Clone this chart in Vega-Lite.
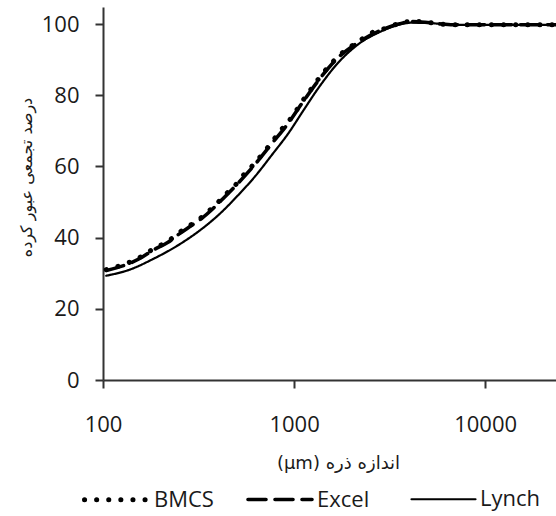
{
  "$schema": "https://vega.github.io/schema/vega-lite/v6.json",
  "width": 453,
  "height": 373,
  "autosize": {"type": "none"},
  "padding": {"left": 103, "top": 7, "right": 0, "bottom": 136},
  "background": "white",
  "config": {"view": {"stroke": null}},
  "data": {
    "values": [
      {"series": "Lynch", "size": 104, "pct": 29.3},
      {"series": "Lynch", "size": 138, "pct": 31.0},
      {"series": "Lynch", "size": 183, "pct": 34.0},
      {"series": "Lynch", "size": 253, "pct": 38.2},
      {"series": "Lynch", "size": 330, "pct": 42.5},
      {"series": "Lynch", "size": 420, "pct": 47.3},
      {"series": "Lynch", "size": 503, "pct": 51.6},
      {"series": "Lynch", "size": 625, "pct": 57.2},
      {"series": "Lynch", "size": 767, "pct": 63.3},
      {"series": "Lynch", "size": 931, "pct": 69.2},
      {"series": "Lynch", "size": 1115, "pct": 75.6},
      {"series": "Lynch", "size": 1352, "pct": 82.3},
      {"series": "Lynch", "size": 1680, "pct": 88.8},
      {"series": "Lynch", "size": 2163, "pct": 94.3},
      {"series": "Lynch", "size": 2924, "pct": 98.2},
      {"series": "Lynch", "size": 3459, "pct": 99.7},
      {"series": "Lynch", "size": 4150, "pct": 100.4},
      {"series": "Lynch", "size": 4850, "pct": 100.4},
      {"series": "Lynch", "size": 5675, "pct": 100.1},
      {"series": "Lynch", "size": 6796, "pct": 99.8},
      {"series": "Lynch", "size": 23500, "pct": 99.8},
      {"series": "Excel", "size": 104, "pct": 30.8},
      {"series": "Excel", "size": 138, "pct": 32.8},
      {"series": "Excel", "size": 160, "pct": 34.5},
      {"series": "Excel", "size": 183, "pct": 36.5},
      {"series": "Excel", "size": 219, "pct": 38.7},
      {"series": "Excel", "size": 253, "pct": 41.2},
      {"series": "Excel", "size": 292, "pct": 43.5},
      {"series": "Excel", "size": 330, "pct": 45.5},
      {"series": "Excel", "size": 377, "pct": 48.2},
      {"series": "Excel", "size": 420, "pct": 50.7},
      {"series": "Excel", "size": 503, "pct": 55.0},
      {"series": "Excel", "size": 625, "pct": 60.6},
      {"series": "Excel", "size": 767, "pct": 66.5},
      {"series": "Excel", "size": 931, "pct": 72.1},
      {"series": "Excel", "size": 1115, "pct": 78.2},
      {"series": "Excel", "size": 1352, "pct": 84.4},
      {"series": "Excel", "size": 1680, "pct": 90.3},
      {"series": "Excel", "size": 2163, "pct": 94.8},
      {"series": "Excel", "size": 2924, "pct": 98.5},
      {"series": "Excel", "size": 3459, "pct": 99.9},
      {"series": "Excel", "size": 4150, "pct": 100.7},
      {"series": "Excel", "size": 4850, "pct": 100.5},
      {"series": "Excel", "size": 5675, "pct": 100.1},
      {"series": "Excel", "size": 6796, "pct": 99.8},
      {"series": "Excel", "size": 23500, "pct": 99.8},
      {"series": "BMCS", "size": 104, "pct": 31.0},
      {"series": "BMCS", "size": 138, "pct": 33.1},
      {"series": "BMCS", "size": 160, "pct": 34.8},
      {"series": "BMCS", "size": 183, "pct": 36.8},
      {"series": "BMCS", "size": 219, "pct": 39.0},
      {"series": "BMCS", "size": 253, "pct": 41.6},
      {"series": "BMCS", "size": 292, "pct": 43.8},
      {"series": "BMCS", "size": 330, "pct": 45.8},
      {"series": "BMCS", "size": 377, "pct": 48.6},
      {"series": "BMCS", "size": 420, "pct": 51.1},
      {"series": "BMCS", "size": 451, "pct": 52.8},
      {"series": "BMCS", "size": 503, "pct": 55.3},
      {"series": "BMCS", "size": 554, "pct": 58.1},
      {"series": "BMCS", "size": 625, "pct": 61.0},
      {"series": "BMCS", "size": 688, "pct": 63.7},
      {"series": "BMCS", "size": 767, "pct": 66.9},
      {"series": "BMCS", "size": 845, "pct": 69.9},
      {"series": "BMCS", "size": 931, "pct": 72.5},
      {"series": "BMCS", "size": 1024, "pct": 75.6},
      {"series": "BMCS", "size": 1115, "pct": 78.6},
      {"series": "BMCS", "size": 1227, "pct": 81.7},
      {"series": "BMCS", "size": 1352, "pct": 84.8},
      {"series": "BMCS", "size": 1507, "pct": 87.9},
      {"series": "BMCS", "size": 1680, "pct": 90.6},
      {"series": "BMCS", "size": 1894, "pct": 93.0},
      {"series": "BMCS", "size": 2163, "pct": 95.0},
      {"series": "BMCS", "size": 2470, "pct": 97.2},
      {"series": "BMCS", "size": 2924, "pct": 98.6},
      {"series": "BMCS", "size": 3459, "pct": 100.0},
      {"series": "BMCS", "size": 4150, "pct": 100.8},
      {"series": "BMCS", "size": 4850, "pct": 100.6},
      {"series": "BMCS", "size": 5675, "pct": 100.1},
      {"series": "BMCS", "size": 6796, "pct": 99.8},
      {"series": "BMCS", "size": 23500, "pct": 99.8}
    ]
  },
  "mark": {"type": "line", "color": "black", "strokeCap": "round", "strokeJoin": "round", "interpolate": "monotone"},
  "encoding": {
    "x": {
      "field": "size", "type": "quantitative",
      "scale": {"type": "log", "domain": [100, 23500], "nice": false},
      "axis": {
        "values": [100, 1000, 10000], "format": "d", "grid": false, "labelFlush": false, "labelOverlap": false,
        "title": "(µm) اندازه ذره",
        "titleFont": "DejaVu Sans", "titleFontSize": 18, "titleFontWeight": "normal", "titleColor": "#1a1a1a",
        "titlePadding": 19, "titleX": 235,
        "labelFont": "Open Sans", "labelFontSize": 22, "labelColor": "#1a1a1a", "labelPadding": 26,
        "domainColor": "#333333", "domainWidth": 2, "tickColor": "#333333", "tickWidth": 2, "tickSize": 8
      }
    },
    "y": {
      "field": "pct", "type": "quantitative",
      "scale": {"domain": [0, 104.8], "nice": false},
      "axis": {
        "values": [0, 20, 40, 60, 80, 100], "grid": false,
        "title": "درصد تجمعی عبور کرده",
        "titleFont": "DejaVu Sans", "titleFontSize": 16, "titleFontWeight": "normal", "titleColor": "#1a1a1a",
        "titleX": -77, "titleY": 170, "titleAngle": -90, "titleAlign": "center", "titleBaseline": "middle",
        "labelFont": "Open Sans", "labelFontSize": 22, "labelColor": "#1a1a1a", "labelPadding": 16,
        "domainColor": "#333333", "domainWidth": 2, "tickColor": "#333333", "tickWidth": 2, "tickSize": 8
      }
    },
    "strokeDash": {
      "field": "series", "type": "nominal",
      "scale": {"domain": ["BMCS", "Excel", "Lynch"], "range": [[0.1, 12], [18, 9], [1, 0]]},
      "legend": {
        "title": null, "orient": "none", "direction": "horizontal", "legendX": -21, "legendY": 458,
        "symbolType": "stroke", "symbolSize": 4096, "symbolStrokeColor": "black",
        "labelFont": "Open Sans", "labelFontSize": 22, "labelColor": "#1a1a1a", "labelOffset": 3,
        "columnPadding": 26, "gridAlign": "all", "symbolOffset": 0,
        "encode": {"symbols": {"update": {
          "strokeCap": {"value": "round"},
          "strokeWidth": {"signal": "datum.value === 'BMCS' ? 4 : 2"},
          "strokeDash": {"signal": "datum.value === 'BMCS' ? [0.1, 10] : (datum.value === 'Excel' ? [19, 11] : [1, 0])"}
        }}}
      }
    },
    "strokeWidth": {
      "field": "series", "type": "nominal",
      "scale": {"domain": ["BMCS", "Excel", "Lynch"], "range": [5, 2.2, 2.2]},
      "legend": {
        "title": null, "orient": "none", "direction": "horizontal", "legendX": -21, "legendY": 458,
        "symbolType": "stroke", "symbolSize": 4096, "symbolStrokeColor": "black",
        "labelFont": "Open Sans", "labelFontSize": 22, "labelColor": "#1a1a1a", "labelOffset": 3,
        "columnPadding": 26, "gridAlign": "all", "symbolOffset": 0,
        "encode": {"symbols": {"update": {
          "strokeCap": {"value": "round"},
          "strokeWidth": {"signal": "datum.value === 'BMCS' ? 4 : 2"},
          "strokeDash": {"signal": "datum.value === 'BMCS' ? [0.1, 10] : (datum.value === 'Excel' ? [19, 11] : [1, 0])"}
        }}}
      }
    },
    "order": {"field": "series", "type": "nominal"}
  }
}
